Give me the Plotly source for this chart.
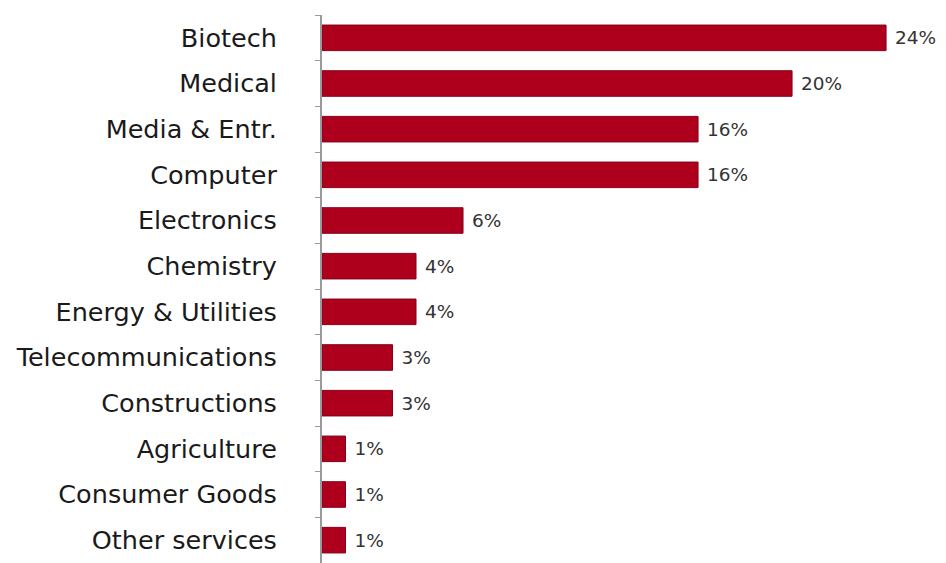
import plotly.graph_objects as go

# Share of companies by industry sector (%)
sectors = [
    "Biotech", "Medical", "Media & Entr.", "Computer", "Electronics",
    "Chemistry", "Energy & Utilities", "Telecommunications", "Constructions",
    "Agriculture", "Consumer Goods", "Other services",
]
shares = [24, 20, 16, 16, 6, 4, 4, 3, 3, 1, 1, 1]
share_labels = [f"{v}%" for v in shares]

fig = go.Figure(
    go.Bar(
        x=shares,
        y=sectors,
        orientation="h",
        text=[" " + s for s in share_labels],
        textposition="outside",
        cliponaxis=False,
        textfont=dict(family="DejaVu Sans", size=18.5, color="#333333"),
        marker=dict(color="#AE001D", line=dict(color="#85001A", width=1)),
        width=0.56,
    )
)

fig.update_layout(
    width=946,
    height=563,
    margin=dict(l=322, r=0, t=15, b=0),
    paper_bgcolor="white",
    plot_bgcolor="white",
    showlegend=False,
    font=dict(family="DejaVu Sans", color="#1a1a1a"),
)

fig.update_xaxes(
    range=[0, 26.55],
    visible=False,
    showgrid=False,
    zeroline=False,
)

fig.update_yaxes(
    autorange="reversed",
    showline=True,
    linecolor="#9a9a9a",
    linewidth=2,
    ticks="outside",
    tickson="boundaries",
    ticklen=5,
    tickcolor="#9a9a9a",
    ticklabelstandoff=38,
    tickfont=dict(family="DejaVu Sans", size=25.5, color="#1a1a1a"),
    showgrid=False,
)

fig.write_html("out.html")
